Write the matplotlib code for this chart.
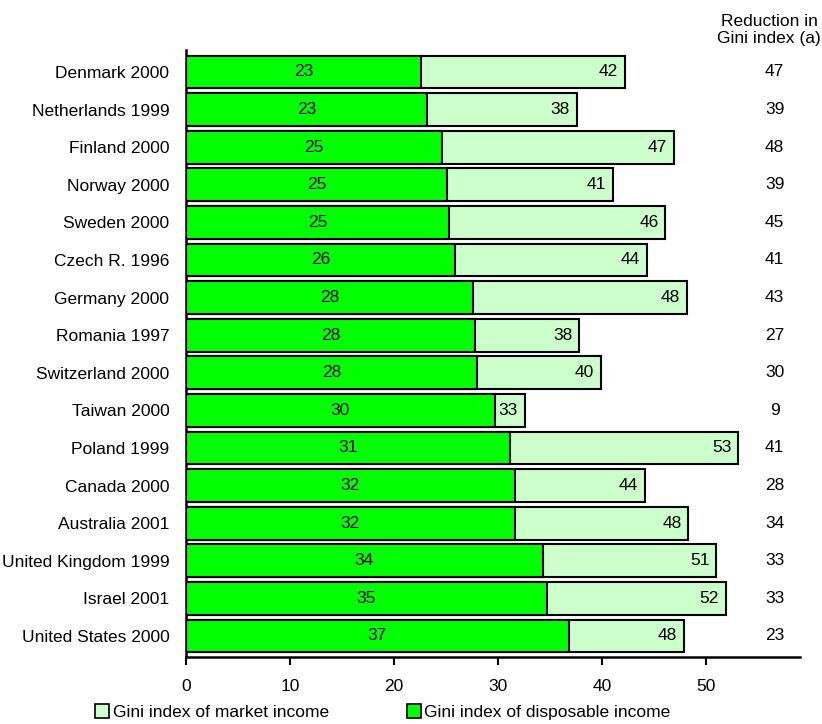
import matplotlib
matplotlib.use("Agg")
import matplotlib.pyplot as plt
from matplotlib.patches import Patch
from matplotlib.transforms import offset_copy

plt.rcParams['font.family'] = ['Liberation Sans', 'DejaVu Sans']

countries = ["Denmark 2000", "Netherlands 1999", "Finland 2000", "Norway 2000",
             "Sweden 2000", "Czech R. 1996", "Germany 2000", "Romania 1997",
             "Switzerland 2000", "Taiwan 2000", "Poland 1999", "Canada 2000",
             "Australia 2001", "United Kingdom 1999", "Israel 2001",
             "United States 2000"]
gini_disposable = [22.6, 23.2, 24.6, 25.1, 25.3, 25.9, 27.6, 27.8,
                   28.0, 29.7, 31.2, 31.6, 31.6, 34.3, 34.7, 36.8]
gini_market = [42.2, 37.6, 46.9, 41.1, 46.1, 44.3, 48.2, 37.8,
               39.9, 32.6, 53.1, 44.1, 48.3, 51.0, 51.9, 47.9]
reduction = [47, 39, 48, 39, 45, 41, 43, 27, 30, 9, 41, 28, 34, 33, 33, 23]
x_ticks = [0, 10, 20, 30, 40, 50]

market_color = "#CCFFCC"
disp_color = "#00FF00"
fs = 12.5

fig = plt.figure(figsize=(8.22, 7.24), dpi=100)
ax = fig.add_axes([186/822, 1 - 657/724, (800 - 186)/822, (657 - 50)/724])

y = list(range(len(countries)))
ax.barh(y, gini_market, height=0.87, color=market_color, edgecolor="black",
        linewidth=1.5, zorder=2)
ax.barh(y, gini_disposable, height=0.87, color=disp_color, edgecolor="black",
        linewidth=1.5, zorder=3)

# value labels: disposable centred, market right-aligned at bar end
right_pad = offset_copy(ax.transData, fig=fig, x=-5, y=0, units='points')
for i, (d, m) in enumerate(zip(gini_disposable, gini_market)):
    ax.text(d / 2, i, f"{d:.0f}", ha="center", va="center", fontsize=fs, zorder=4)
    ax.text(m, i, f"{m:.0f}", ha="right", va="center", fontsize=fs, zorder=4,
            transform=right_pad)
    ax.text(56.6, i, f"{reduction[i]}", ha="center", va="center", fontsize=fs,
            clip_on=False)

fig.text(769/822, 1 - 30/724, "Reduction in\nGini index (a)", ha="center",
         va="center", fontsize=fs, linespacing=1.25)

ax.set_xlim(0, (800 - 186) / 10.4)
ax.set_ylim(15.56, -0.585)
ax.set_xticks(x_ticks)
ax.set_xticklabels([str(t) for t in x_ticks], fontsize=fs)
ax.set_yticks(y)
ax.set_yticklabels(countries, fontsize=fs)
ax.tick_params(axis="y", length=0, pad=12)
ax.tick_params(axis="x", length=6, width=1.5, direction="out", pad=10)
for s in ["top", "right"]:
    ax.spines[s].set_visible(False)
for s in ["left", "bottom"]:
    ax.spines[s].set_linewidth(1.8)

handles = [Patch(facecolor=market_color, edgecolor="black", linewidth=1.2,
                 label="Gini index of market income"),
           Patch(facecolor=disp_color, edgecolor="black", linewidth=1.2,
                 label="Gini index of disposable income")]
fig.legend(handles=handles, loc="lower center", bbox_to_anchor=(0.466, -0.016),
           ncol=2, frameon=False, fontsize=fs, handlelength=0.8, handleheight=0.8,
           handletextpad=0.2, columnspacing=4.5)

fig.savefig("out.png", dpi=100)
